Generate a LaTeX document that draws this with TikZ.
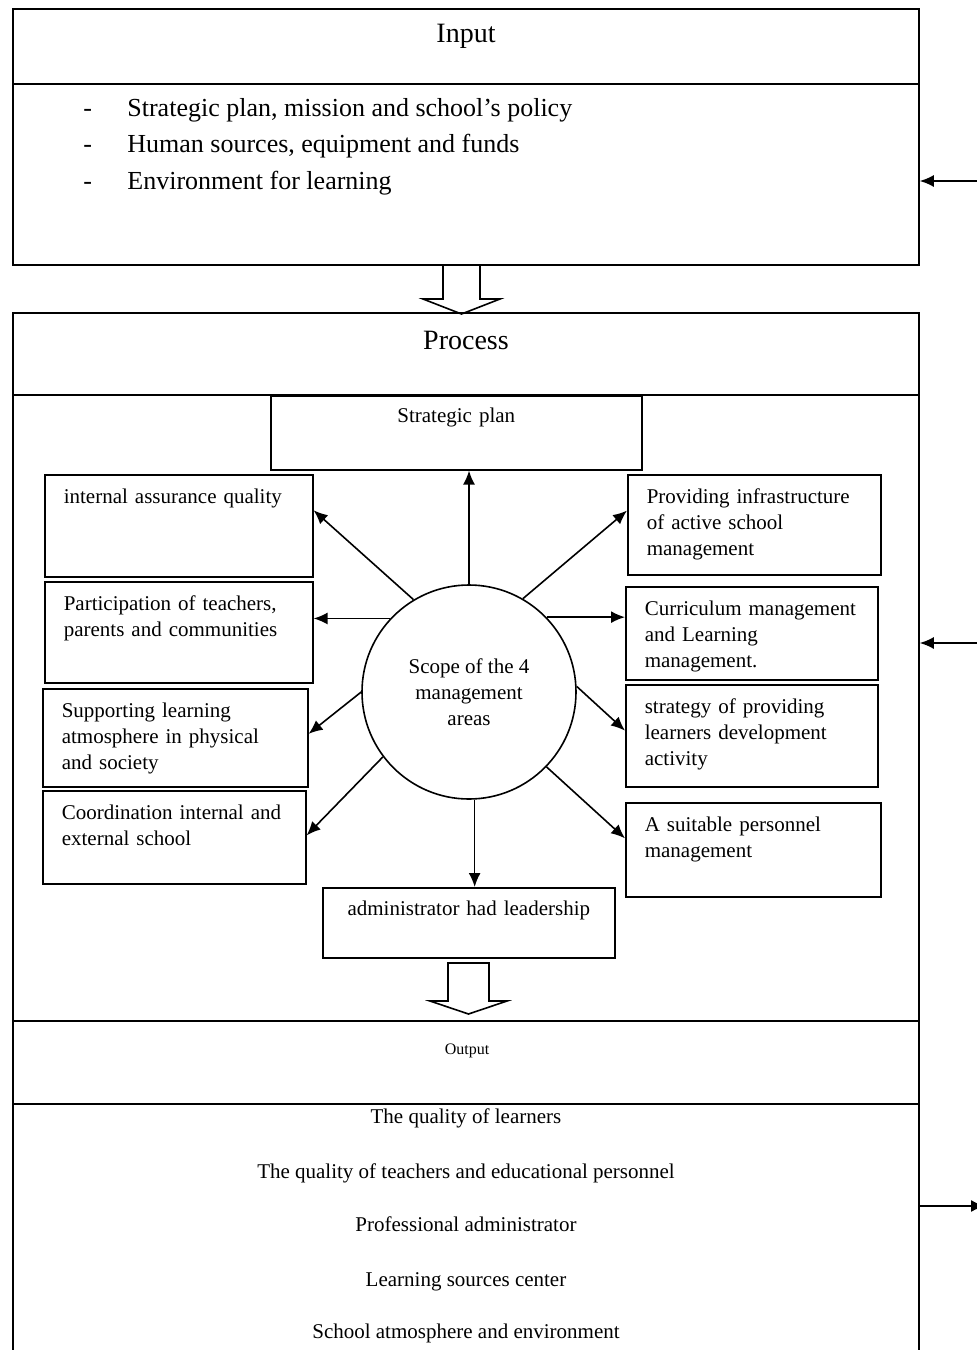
\documentclass[tikz,border=0pt]{standalone}
\usepackage{fontspec}
\setmainfont{Liberation Serif}
\usetikzlibrary{arrows.meta,calc}
\newcommand\boxfont{\fontsize{10.5}{13}\selectfont}
\newcommand\headfont{\fontsize{14}{16}\selectfont}
\newcommand\itemfont{\fontsize{13}{15}\selectfont}
\newcommand\smallhead{\fontsize{8}{9}\selectfont}

\begin{document}
\begin{tikzpicture}[x=0.5pt,y=-0.5pt]
		\tikzset{frame/.style = {draw, line width=0.9pt, anchor=north west, inner sep=0pt}}
		\tikzset{box/.style = {draw, line width=0.8pt, anchor=north west, align=left, inner xsep=9.5pt, inner ysep=0pt, text height=14.5pt, font=\boxfont}}
		\tikzset{cbox/.style = {box, align=center}}
		\tikzset{listitem/.style = {font=\itemfont, anchor=base west, inner xsep=0pt}}
		\tikzset{edge/.style = {-{Latex[length=7pt,width=6pt]}, line width=0.8pt}}
		\tikzset{hollow/.style = {line width=0.8pt, line join=miter}}
		
		\useasboundingbox (0,0) rectangle (977,1350);
		
		% input
		\node[frame, minimum width=453pt, minimum height=128pt] (inbox) at (12,8) {};
		\draw[line width=0.9pt] (12,84) -- (918,84);
		\node[font=\headfont] (intitle) at (466,36) {Input};
		\node[listitem] (in1) at (83,116) {\makebox[22pt][l]{-}Strategic plan, mission and school’s policy};
		\node[listitem] (in2) at (83,152) {\makebox[22pt][l]{-}Human sources, equipment and funds};
		\node[listitem] (in3) at (83,189) {\makebox[22pt][l]{-}Environment for learning};
		
		\draw[hollow] (443,264) -- (443,299) -- (423,299) -- (461.5,314) -- (500,299) -- (480,299) -- (480,264);
		
		% process and output
		\node[frame, minimum width=453pt, minimum height=529pt] (procbox) at (12,312) {};
		\draw[line width=0.9pt] (12,395) -- (918,395);
		\draw[line width=0.9pt] (12,1021) -- (918,1021);
		\draw[line width=0.9pt] (12,1104) -- (918,1104);
		\node[font=\headfont] (proctitle) at (466,340) {Process};
		
		\node[cbox, text width=166.5pt, text height=13.5pt, text depth=23.5pt] (plan) at (270,395) {Strategic plan};
		\node[box, text width=115pt, text depth=36.5pt] (iaq) at (44,474) {internal assurance quality};
		\node[box, text width=115pt, text depth=36pt] (part) at (44,581) {Participation of teachers,\\parents and communities};
		\node[box, text width=113.5pt, text depth=34.5pt] (supp) at (42,688) {Supporting learning\\atmosphere in physical\\and society};
		\node[box, text width=112.5pt, text depth=32pt] (coord) at (42,790) {Coordination internal and\\external school};
		\node[box, text width=107.5pt, text depth=35.5pt] (infra) at (627,474) {Providing infrastructure\\of active school\\management};
		\node[box, text width=107pt, text depth=32pt] (curr) at (625,586) {Curriculum management\\and Learning\\management.};
		\node[box, text width=107pt, text depth=36.5pt] (lrn) at (625,684) {strategy of providing\\learners  development\\activity};
		\node[box, text width=108.5pt, text depth=32.5pt] (pers) at (625,802) {A suitable personnel\\management};
		\node[cbox, text width=127pt, text height=14pt, text depth=21pt] (admin) at (322,887) {administrator had leadership};
		
		\node[draw, circle, line width=0.8pt, minimum size=107pt, inner sep=0pt, align=center, font=\boxfont] (scope) at (469,692) {Scope of the 4\\management\\areas};
		
		\draw[edge] (scope.north) -- (scope.north |- plan.south);
		\draw[edge] (scope.121) -- ($(iaq.north east)!0.35!(iaq.south east)$);
		\draw[edge] (scope.137) -- (scope.137 -| part.east);
		\draw[edge] (scope.180) -- ($(supp.north east)!0.46!(supp.south east)$);
		\draw[edge] (scope.217) -- ($(coord.north east)!0.48!(coord.south east)$);
		\draw[edge] (scope.-87) -- (scope.-87 |- admin.north);
		\draw[edge] (scope.60) -- ($(infra.north west)!0.36!(infra.south west)$);
		\draw[edge] (scope.44) -- (scope.44 -| curr.west);
		\draw[edge] (scope.3) -- ($(lrn.north west)!0.45!(lrn.south west)$);
		\draw[edge] (scope.-44) -- ($(pers.north west)!0.38!(pers.south west)$);
		
		\draw[hollow] (448,963) -- (448,1001) -- (430,1001) -- (468.5,1014) -- (507,1001) -- (489,1001) -- (489,963) -- cycle;
		
		\node[font=\smallhead] (outtitle) at (467,1051) {Output};
		\node[font=\boxfont, anchor=base] (q1) at (466,1123) {The quality of learners};
		\node[font=\boxfont, anchor=base] (q2) at (466,1178) {The quality of teachers and educational personnel};
		\node[font=\boxfont, anchor=base] (q3) at (466,1231) {Professional administrator};
		\node[font=\boxfont, anchor=base] (q4) at (466,1286) {Learning sources center};
		\node[font=\boxfont, anchor=base] (q5) at (466,1338) {School atmosphere and environment};
		
		% feedback arrows
		\coordinate (fbin) at (977,181);
		\coordinate (fbproc) at (977,643);
		\coordinate (fbout) at (985,1206);
		\draw[edge] (fbin) -- (fbin -| inbox.east);
		\draw[edge] (fbproc) -- (fbproc -| procbox.east);
		\draw[edge] (fbout -| procbox.east) -- (fbout);
\end{tikzpicture}
\end{document}
